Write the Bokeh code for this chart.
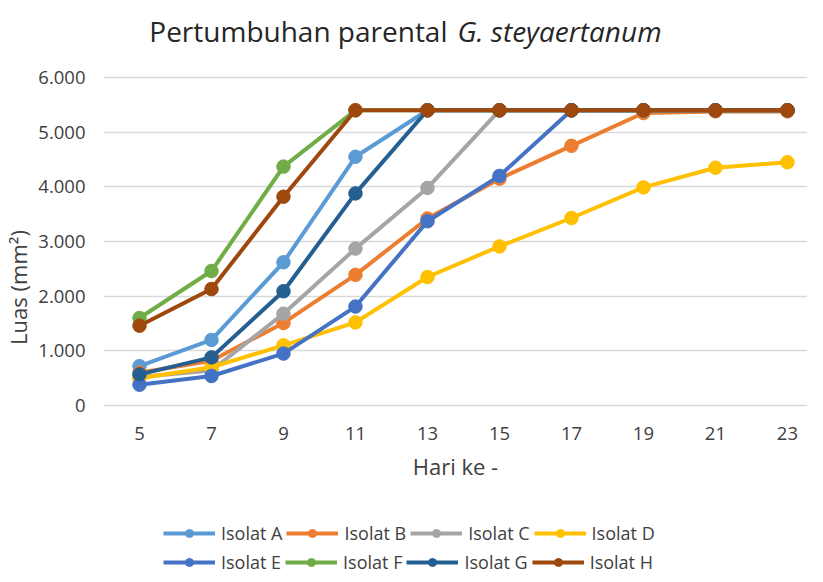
from bokeh.plotting import figure
from bokeh.models import Range1d, FixedTicker, CustomJSTickFormatter, Legend, LegendItem, Label
from bokeh.embed import file_html
from bokeh.resources import INLINE

days = [5, 7, 9, 11, 13, 15, 17, 19, 21, 23]
series_names = ["Isolat A", "Isolat B", "Isolat C", "Isolat D",
                "Isolat E", "Isolat F", "Isolat G", "Isolat H"]
isolat_a = [720, 1200, 2620, 4550, 5400, 5400, 5400, 5400, 5400, 5400]
isolat_b = [600, 820, 1510, 2390, 3420, 4150, 4750, 5350, 5380, 5380]
isolat_c = [520, 640, 1680, 2870, 3980, 5400, 5400, 5400, 5400, 5400]
isolat_d = [500, 700, 1100, 1520, 2350, 2910, 3430, 3990, 4350, 4450]
isolat_e = [380, 540, 950, 1810, 3370, 4200, 5400, 5400, 5400, 5400]
isolat_f = [1600, 2460, 4370, 5400, 5400, 5400, 5400, 5400, 5400, 5400]
isolat_g = [570, 880, 2090, 3880, 5400, 5400, 5400, 5400, 5400, 5400]
isolat_h = [1460, 2130, 3820, 5400, 5400, 5400, 5400, 5400, 5400, 5400]
y_ticks = [0, 1000, 2000, 3000, 4000, 5000, 6000]
title_plain = "Pertumbuhan parental"
title_italic = "G. steyaertanum"

all_series = [isolat_a, isolat_b, isolat_c, isolat_d, isolat_e, isolat_f, isolat_g, isolat_h]
colors = ["#5B9BD5", "#ED7D31", "#A5A5A5", "#FFC000",
          "#4472C4", "#70AD47", "#255E91", "#9E480E"]

FONT = "Open Sans"
TXT = "#404040"

W, H = 807, 574
LEFT = 100
GRID_TOP_PX = 77         # canvas row of the 6.000 line
GRID_ZERO_PX = 405       # canvas row of the 0 line
ppu = (GRID_ZERO_PX - GRID_TOP_PX) / 6000.0
y_end = GRID_ZERO_PX / ppu
y_start = -(H - GRID_ZERO_PX) / ppu
px_per_day = 36.15
x_end = 4 + (W - LEFT) / px_per_day

p = figure(width=W, height=H, output_backend="svg", toolbar_location=None,
           x_range=Range1d(4, x_end), y_range=Range1d(y_start, y_end),
           min_border_left=LEFT, min_border_right=0, min_border_top=0,
           min_border_bottom=0, title=None)
p.outline_line_color = None
p.background_fill_color = "white"
p.border_fill_color = "white"

p.xgrid.grid_line_color = None
p.ygrid.grid_line_color = "#D9D9D9"
p.ygrid.grid_line_width = 1.3
p.ygrid.ticker = FixedTicker(ticks=y_ticks)

p.xaxis.ticker = FixedTicker(ticks=days)
p.xaxis.fixed_location = 0
p.yaxis.ticker = FixedTicker(ticks=y_ticks)
p.yaxis.bounds = (y_ticks[0], y_ticks[-1])
p.yaxis.formatter = CustomJSTickFormatter(code="""
var s = Math.round(tick).toString();
return s.replace(/\\B(?=(\\d{3})+(?!\\d))/g, '.');
""")
for ax in (p.xaxis[0], p.yaxis[0]):
    ax.axis_line_color = None
    ax.major_tick_line_color = None
    ax.minor_tick_line_color = None
    ax.major_label_text_font = FONT
    ax.major_label_text_font_size = "18.5px"
    ax.major_label_text_color = TXT
    ax.axis_label_text_font = FONT
    ax.axis_label_text_font_size = "22px"
    ax.axis_label_text_font_style = "normal"
    ax.axis_label_text_color = TXT

p.xaxis.major_label_standoff = 15
p.xaxis.axis_label = "Hari ke -"
p.xaxis.axis_label_standoff = 8
p.yaxis.major_label_standoff = 12
p.yaxis.axis_label = "Luas (mm\u00b2)"
p.yaxis.axis_label_standoff = 2

items = []
for name, vals, col in zip(series_names, all_series, colors):
    lr = p.line(days, vals, line_color=col, line_width=4)
    cr = p.scatter(days, vals, size=13.5, fill_color=col, line_color=col)
    items.append(LegendItem(label=name, renderers=[lr, cr]))

def make_legend(its, row_center_px):
    bottom_from_frame_bottom = H - (row_center_px + 10)
    lg = Legend(items=its, orientation="horizontal",
                location=(60, bottom_from_frame_bottom),
                border_line_color=None, background_fill_alpha=0,
                glyph_width=52, glyph_height=20, label_standoff=6,
                spacing=4, padding=0, margin=0,
                label_text_font=FONT, label_text_font_size="18px",
                label_text_color=TXT, label_height=20)
    return lg

p.add_layout(make_legend(items[:4], 535), "center")
p.add_layout(make_legend(items[4:], 564), "center")

t1 = Label(x=344, y=H - 30, x_units="screen", y_units="screen",
           text=title_plain, text_align="right", text_baseline="middle",
           text_font=FONT, text_font_size="28px", text_color="#262626")
t2 = Label(x=354, y=H - 30, x_units="screen", y_units="screen",
           text=title_italic, text_align="left", text_baseline="middle",
           text_font=FONT, text_font_size="28px", text_font_style="italic",
           text_color="#262626")
p.add_layout(t1)
p.add_layout(t2)

open("out.html", "w").write(file_html(p, INLINE))
